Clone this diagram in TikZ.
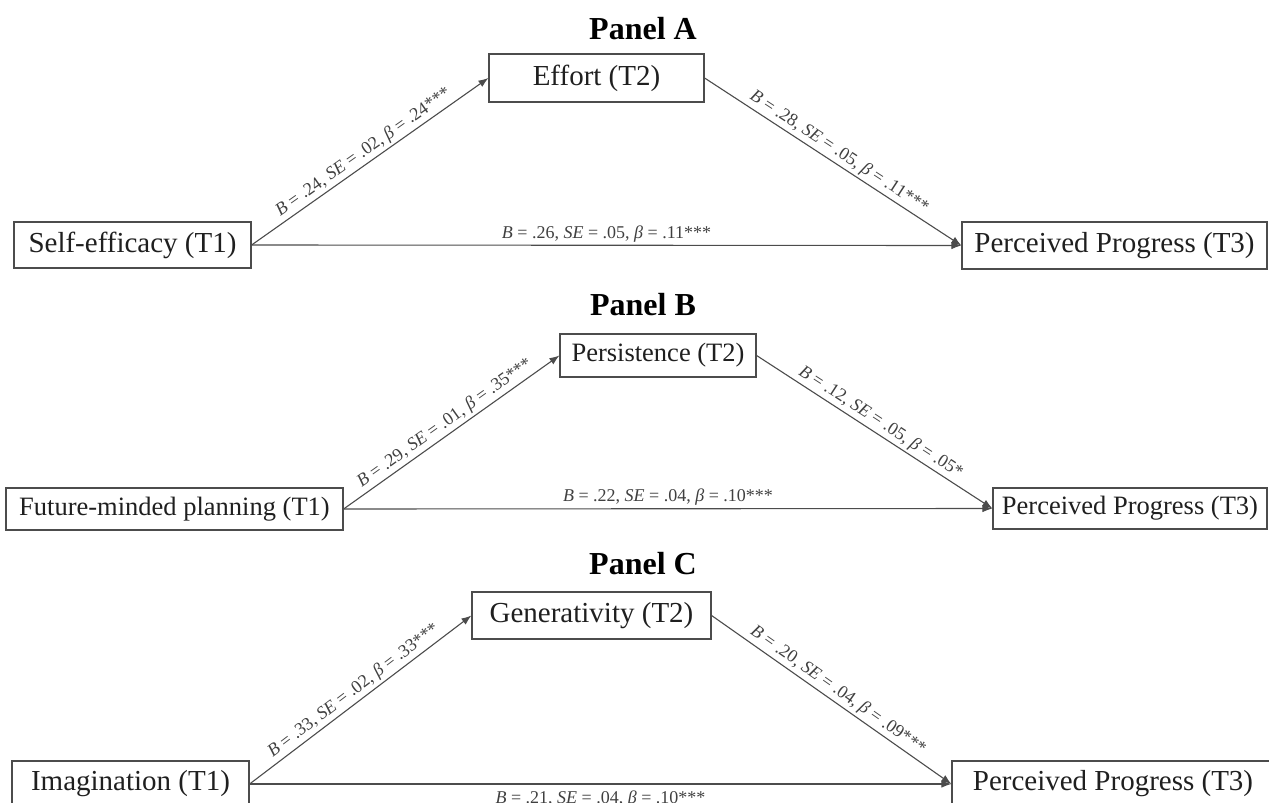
\documentclass[tikz,border=0pt]{standalone}
\usepackage{fontspec}
\setmainfont{Liberation Serif}
\usetikzlibrary{arrows.meta}
\newcommand{\est}[3]{\textit{B} = #1, \textit{SE} = #2, \textit{β} = #3}
\begin{document}
\begin{tikzpicture}[x=1pt,y=-1pt,
    var/.style={draw=black!70,line width=1.2pt,inner sep=0pt,text=black!88},
    big/.style={font=\fontsize{29}{29}\selectfont},
    small/.style={font=\fontsize{26.5}{26.5}\selectfont},
    panel/.style={font=\fontsize{32}{32}\selectfont\bfseries},
    path/.style={draw=black!70,line width=1.1pt,-{Latex[length=10pt,width=7.5pt]}},
    coef/.style={font=\fontsize{18}{18}\selectfont,text=black!75,inner sep=2.5pt}]
    \useasboundingbox (0,0) rectangle (1269,803);
    % Panel A
    \node[panel] (titleA) at (643,29) {Panel A};
    \node[var,big,minimum width=237pt,minimum height=46pt] (se) at (132.5,245) {Self-efficacy (T1)};
    \node[var,big,minimum width=215pt,minimum height=48pt] (eff) at (596.5,78) {Effort (T2)};
    \node[var,big,minimum width=305pt,minimum height=47pt] (ppA) at (1114.5,245.5) {Perceived Progress (T3)};
    \draw[path] (se.east) -- node[coef,midway,above,sloped] {\est{.24}{.02}{.24***}} (eff.west);
    \draw[path] (eff.east) -- node[coef,midway,above,sloped] {\est{.28}{.05}{.11***}} (ppA.west);
    \draw[path] (se.east) -- node[coef,midway,above] {\est{.26}{.05}{.11***}} (ppA.west);
    % Panel B
    \node[panel] (titleB) at (643,304.5) {Panel B};
    \node[var,small,minimum width=337pt,minimum height=42pt] (fmp) at (174.5,509) {Future-minded planning (T1)};
    \node[var,small,minimum width=196pt,minimum height=43pt] (per) at (658,355.5) {Persistence (T2)};
    \node[var,small,minimum width=274pt,minimum height=41pt] (ppB) at (1130,508.5) {Perceived Progress (T3)};
    \draw[path] (fmp.east) -- node[coef,midway,above,sloped] {\est{.29}{.01}{.35***}} (per.west);
    \draw[path] (per.east) -- node[coef,midway,above,sloped] {\est{.12}{.05}{.05*}} (ppB.west);
    \draw[path] (fmp.east) -- node[coef,midway,above] {\est{.22}{.04}{.10***}} (ppB.west);
    % Panel C
    \node[panel] (titleC) at (643,563.5) {Panel C};
    \node[var,big,minimum width=237pt,minimum height=46pt] (img) at (130.5,784) {Imagination (T1)};
    \node[var,big,minimum width=239pt,minimum height=47pt] (gen) at (591.5,615.5) {Generativity (T2)};
    \node[var,big,minimum width=322pt,minimum height=46pt] (ppC) at (1113,784) {Perceived Progress (T3)};
    \draw[path] (img.east) -- node[coef,midway,above,sloped] {\est{.33}{.02}{.33***}} (gen.west);
    \draw[path] (gen.east) -- node[coef,midway,above,sloped] {\est{.20}{.04}{.09***}} (ppC.west);
    \draw[path] (img.east) -- node[coef,midway,below,yshift=-4pt] {\est{.21}{.04}{.10***}} (ppC.west);
\end{tikzpicture}
\end{document}
